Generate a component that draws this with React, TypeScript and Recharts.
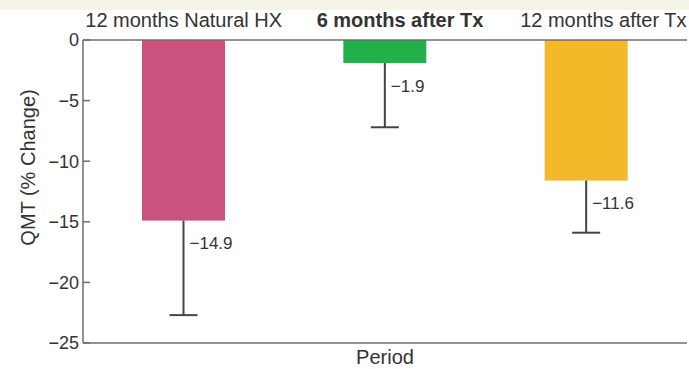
import React from 'react';
import { BarChart, Bar, XAxis, YAxis, Cell } from 'recharts';

const periods = ['12 months Natural HX', '6 months after Tx', '12 months after Tx'];
const qmtChange = [-14.9, -1.9, -11.6];
const errLower = [7.8, 5.3, 4.3];
const valueLabels = ['\u221214.9', '\u22121.9', '\u221211.6'];
const yTicks = [0, -5, -10, -15, -20, -25];
const barColors = ['#cb517e', '#22b04b', '#f3b929'];

const data = periods.map((p, i) => ({
  period: p,
  value: qmtChange[i],
  err: errLower[i],
  label: valueLabels[i],
}));

const FONT = 'Liberation Sans, Arial, sans-serif';
const TEXT = '#333333';
const AXIS = '#6e6e6e';

const topLabelShift = [0, 15, 17];

const TopTick = (props: any) => {
  const { x, y, payload, index } = props;
  return (
    <text
      x={x + (topLabelShift[index] || 0)}
      y={y - 5}
      textAnchor="middle"
      fontFamily={FONT}
      fontSize={20}
      fontWeight={index === 1 ? 'bold' : 'normal'}
      fill={TEXT}
    >
      {payload.value}
    </text>
  );
};

const BarWithWhisker = (props: any) => {
  const { x, y, width, height, fill, payload } = props;
  const top = Math.min(y, y + height);
  const h = Math.abs(height);
  const bottom = top + h;
  const pxPerUnit = h / Math.abs(payload.value);
  const errPx = payload.err * pxPerUnit;
  const cx = x + width / 2;
  return (
    <g>
      <rect x={x} y={top} width={width} height={h} fill={fill} />
      <line x1={cx} y1={bottom} x2={cx} y2={bottom + errPx} stroke="#444" strokeWidth={2} />
      <line x1={cx - 14} y1={bottom + errPx} x2={cx + 14} y2={bottom + errPx} stroke="#444" strokeWidth={2} />
      <text
        x={cx + 6}
        y={bottom + 23}
        dominantBaseline="central"
        fontFamily={FONT}
        fontSize={17}
        fill={TEXT}
      >
        {payload.label}
      </text>
    </g>
  );
};

const fmt = (v: number) => (v < 0 ? '\u2212' + Math.abs(v) : String(v));

export default function App() {
  return (
    <div style={{ position: 'absolute', left: 0, top: 0, width: 689, height: 369, background: '#ffffff' }}>
      <div style={{ position: 'absolute', left: 0, top: 0, width: 689, height: 10, background: '#f4f3e5' }} />
      <div style={{ position: 'absolute', left: 0, top: 0 }}>
        <BarChart
          width={689}
          height={369}
          data={data}
          margin={{ top: 0, right: 2, bottom: 0, left: 0 }}
        >
          <XAxis
            xAxisId="top"
            orientation="top"
            dataKey="period"
            height={40}
            tickLine={false}
            axisLine={{ stroke: AXIS, strokeWidth: 1.5 }}
            tick={<TopTick />}
            interval={0}
          />
          <XAxis
            xAxisId="bottom"
            orientation="bottom"
            dataKey="period"
            height={26}
            tick={false}
            tickLine={false}
            axisLine={{ stroke: AXIS, strokeWidth: 1.5 }}
            label={{ value: 'Period', position: 'center', dy: 1, fontFamily: FONT, fontSize: 20, fill: TEXT }}
          />
          <YAxis
            yAxisId="left"
            width={83}
            domain={[-25, 0]}
            ticks={yTicks}
            interval={0}
            tickSize={-7}
            tickMargin={11}
            tickFormatter={fmt}
            tick={{ fontFamily: FONT, fontSize: 18, fill: TEXT }}
            tickLine={{ stroke: AXIS, strokeWidth: 1.5 }}
            axisLine={{ stroke: AXIS, strokeWidth: 1.5 }}
            label={{
              value: 'QMT (% Change)',
              angle: -90,
              position: 'center',
              dx: -14,
              dy: -24,
              fontFamily: FONT,
              fontSize: 20,
              fill: TEXT,
            }}
          />
          <YAxis
            yAxisId="right"
            orientation="right"
            width={0}
            domain={[-25, 0]}
            tick={false}
            tickLine={false}
            axisLine={{ stroke: AXIS, strokeWidth: 1.5 }}
          />
          <Bar
            xAxisId="top"
            yAxisId="left"
            dataKey="value"
            barSize={83}
            shape={<BarWithWhisker />}
            isAnimationActive={false}
          >
            {data.map((d, i) => (
              <Cell key={d.period} fill={barColors[i]} />
            ))}
          </Bar>
        </BarChart>
      </div>
    </div>
  );
}
